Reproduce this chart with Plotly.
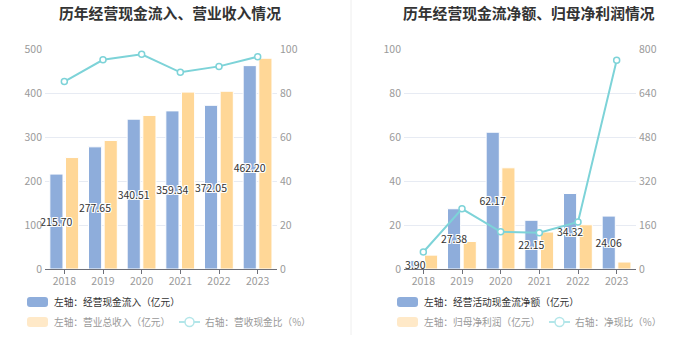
import plotly.graph_objects as go

years = ["2018", "2019", "2020", "2021", "2022", "2023"]

# Left panel
cash_in = [215.70, 277.65, 340.51, 359.34, 372.05, 462.20]
revenue = [253.3, 292.0, 349.0, 402.0, 404.0, 479.0]
cash_rev_ratio = [85.2, 95.1, 97.6, 89.4, 92.1, 96.5]

# Right panel
net_cash = [3.90, 27.38, 62.17, 22.15, 34.32, 24.06]
net_profit = [6.3, 12.5, 46.0, 16.8, 20.1, 3.17]
net_cash_ratio = [61.9, 219.0, 135.2, 131.8, 170.7, 758.9]

W, H = 699, 359
FONT = "Noto Sans CJK SC, Noto Sans, sans-serif"
BLUE = "#8eaddb"
YELLOW = "#ffd797"
CYAN = "#7dd3d8"
GRID = "#e7ebf3"
TICK = "#9a9a9a"


def px(x):
    return x / W


def py(y):
    return 1 - y / H


shadow = ("1px 1px 0 #fff, -1px -1px 0 #fff, 1px -1px 0 #fff, -1px 1px 0 #fff, "
          "0 1px 0 #fff, 0 -1px 0 #fff, 1px 0 0 #fff, -1px 0 0 #fff")

fig = go.Figure()

BW = 0.34


def add_panel(xa, ya, ya2, bars1, bars2, line):
    fig.add_trace(go.Bar(
        x=years, y=bars1, xaxis=xa, yaxis=ya, width=BW, offset=-0.375,
        marker=dict(color=BLUE, line=dict(color="#ffffff", width=1)),
        hoverinfo="skip",
    ))
    fig.add_trace(go.Bar(
        x=years, y=bars2, xaxis=xa, yaxis=ya, width=BW, offset=0.03,
        marker=dict(color=YELLOW, line=dict(color="#ffffff", width=1)),
        hoverinfo="skip",
    ))
    # value labels of the first series, drawn on top of both bar series
    fig.add_trace(go.Bar(
        x=years, y=bars1, xaxis=xa, yaxis=ya, width=BW, offset=-0.375,
        marker=dict(color="rgba(0,0,0,0)", line=dict(width=0)),
        text=[f"{v:.2f}" for v in bars1], textposition="inside",
        insidetextanchor="middle", textangle=0, constraintext="none",
        insidetextfont=dict(color="#333333", size=10.5, family=FONT, shadow=shadow),
        cliponaxis=False, hoverinfo="skip",
    ))
    fig.add_trace(go.Scatter(
        x=years, y=line, xaxis=xa, yaxis=ya2, mode="lines+markers",
        line=dict(color=CYAN, width=2),
        marker=dict(symbol="circle", size=6, color="#ffffff", line=dict(color=CYAN, width=1.5)),
        cliponaxis=False, hoverinfo="skip",
    ))


add_panel("x", "y", "y2", cash_in, revenue, cash_rev_ratio)
add_panel("x2", "y3", "y4", net_cash, net_profit, net_cash_ratio)

tickfont = dict(color=TICK, size=10.5, family=FONT)
ydom = [py(269), py(49)]

xcommon = dict(type="category", showline=True, linecolor="#6e7079", linewidth=1,
               ticks="outside", ticklen=4, tickcolor="#6e7079", tickfont=tickfont,
               showgrid=False, fixedrange=True, automargin=False, zeroline=False,
               ticklabelstandoff=-2)
ycommon = dict(showline=False, zeroline=False, tickfont=tickfont, ticks="",
               fixedrange=True, automargin=False, ticklabelstandoff=2)

fig.update_layout(
    width=W, height=H, margin=dict(l=0, r=0, t=0, b=0, autoexpand=False),
    paper_bgcolor="#ffffff", plot_bgcolor="#ffffff",
    showlegend=False, barmode="overlay",
    font=dict(family=FONT),
    xaxis=dict(domain=[px(45), px(277)], anchor="y", **xcommon),
    yaxis=dict(domain=ydom, anchor="x", range=[0, 500], dtick=100,
               showgrid=True, gridcolor=GRID, **ycommon),
    yaxis2=dict(overlaying="y", side="right", anchor="x", range=[0, 100], dtick=20,
                showgrid=False, **ycommon),
    xaxis2=dict(domain=[px(404), px(636)], anchor="y3", **xcommon),
    yaxis3=dict(domain=ydom, anchor="x2", range=[0, 100], dtick=20,
                showgrid=True, gridcolor=GRID, **ycommon),
    yaxis4=dict(overlaying="y3", side="right", anchor="x2", range=[0, 800], dtick=160,
                showgrid=False, **ycommon),
)

shapes = [dict(type="line", xref="paper", yref="paper", x0=px(351), x1=px(351),
               y0=py(0), y1=py(335), line=dict(color="#eeeeee", width=1))]
annotations = [
    dict(text="<b>历年经营现金流入、营业收入情况</b>", x=px(170), y=py(12), xref="paper", yref="paper",
         showarrow=False, xanchor="center", yanchor="middle",
         font=dict(size=14.8, color="#333333", family=FONT)),
    dict(text="<b>历年经营现金流净额、归母净利润情况</b>", x=px(529), y=py(12), xref="paper", yref="paper",
         showarrow=False, xanchor="center", yanchor="middle",
         font=dict(size=14.8, color="#333333", family=FONT)),
]


def rounded(x0, y0, x1, y1, r):
    X = lambda v: f"{px(v):.5f}"
    Y = lambda v: f"{py(v):.5f}"
    return (f"M {X(x0 + r)},{Y(y0)} L {X(x1 - r)},{Y(y0)} Q {X(x1)},{Y(y0)} {X(x1)},{Y(y0 + r)} "
            f"L {X(x1)},{Y(y1 - r)} Q {X(x1)},{Y(y1)} {X(x1 - r)},{Y(y1)} "
            f"L {X(x0 + r)},{Y(y1)} Q {X(x0)},{Y(y1)} {X(x0)},{Y(y1 - r)} "
            f"L {X(x0)},{Y(y0 + r)} Q {X(x0)},{Y(y0)} {X(x0 + r)},{Y(y0)} Z")


def legend_box(x, y, color, text, tcolor):
    shapes.append(dict(type="path", xref="paper", yref="paper",
                       path=rounded(x, y - 5, x + 21, y + 5, 3),
                       fillcolor=color, line=dict(width=0)))
    annotations.append(dict(text=text, x=px(x + 25), y=py(y), xref="paper", yref="paper",
                            showarrow=False, xanchor="left", yanchor="middle",
                            font=dict(size=9.7, color=tcolor, family=FONT)))


def legend_line(x, y, text):
    shapes.append(dict(type="line", xref="paper", yref="paper", x0=px(x), x1=px(x + 21),
                       y0=py(y), y1=py(y), line=dict(color="#b3e6e9", width=2)))
    shapes.append(dict(type="circle", xref="paper", yref="paper",
                       x0=px(x + 10.5 - 4.5), x1=px(x + 10.5 + 4.5), y0=py(y + 4.5), y1=py(y - 4.5),
                       fillcolor="#ffffff", line=dict(color="#b3e6e9", width=1.5)))
    annotations.append(dict(text=text, x=px(x + 24), y=py(y), xref="paper", yref="paper",
                            showarrow=False, xanchor="left", yanchor="middle",
                            font=dict(size=9.7, color="#999999", family=FONT)))


legend_box(27, 302, BLUE, "左轴：经营现金流入（亿元）", "#333333")
legend_box(27, 322, "#ffe9c8", "左轴：营业总收入（亿元）", "#999999")
legend_line(179, 322, "右轴：营收现金比（%）")
legend_box(397, 302, BLUE, "左轴：经营活动现金流净额（亿元）", "#333333")
legend_box(397, 322, "#ffe9c8", "左轴：归母净利润（亿元）", "#999999")
legend_line(549, 322, "右轴：净现比（%）")

fig.update_layout(shapes=shapes, annotations=annotations)

fig.write_html("out.html", config={"responsive": False, "displayModeBar": False},
               post_script="document.body.style.margin='0';document.body.style.overflow='hidden';")
